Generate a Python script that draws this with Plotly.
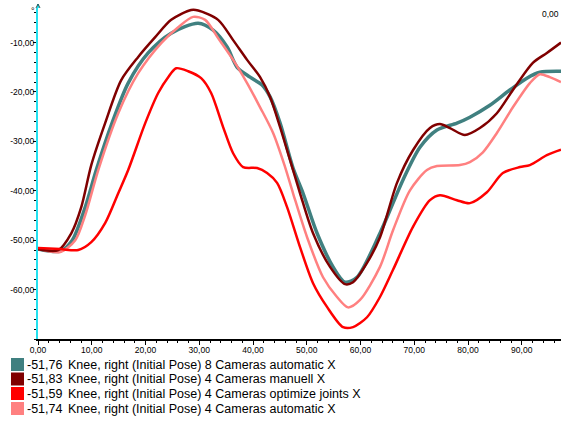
import plotly.graph_objects as go

# ---- data ----
names = [
    "Knee, right (Initial Pose) 8 Cameras automatic X",
    "Knee, right (Initial Pose) 4 Cameras manuell X",
    "Knee, right (Initial Pose) 4 Cameras optimize joints X",
    "Knee, right (Initial Pose) 4 Cameras automatic X",
]
first_values = ["-51,76", "-51,83", "-51,59", "-51,74"]
colors = ["#408080", "#800000", "#ff0000", "#ff8080"]

teal_t = [0, 4.14, 6.38, 8.79, 10.84, 13.77, 16.78, 20.50, 24.78, 29.80, 32.58, 35.19, 37.05,
          39.46, 41.69, 43.18, 45.04, 47.45, 49.31, 51.92, 54.89, 57.12, 59.35, 63.62, 67.90,
          71.06, 74.22, 77.94, 80.35, 84.07, 87.79, 90.95, 93.36, 97.3]
teal_v = [-51.76, -52.2, -50.0, -43.3, -35.8, -26.3, -18.2, -12.1, -8.1, -6.1, -7.5, -10.9, -15.0,
          -17.0, -18.6, -21.0, -26.3, -35.4, -40.5, -48.6, -55.4, -58.5, -57.5, -48.6, -37.8,
          -31.2, -27.7, -26.3, -25.1, -22.7, -19.6, -17.2, -16.0, -15.8]

dred_t = [0, 3.77, 6.19, 8.05, 9.91, 12.49, 15.48, 18.64, 21.80, 24.78, 28.49, 29.80, 33.51,
          36.30, 38.90, 41.32, 43.18, 45.04, 46.90, 48.75, 51.17, 54.33, 57.12, 58.61, 61.21,
          63.63, 66.79, 69.76, 72.92, 74.78, 76.64, 79.42, 82.21, 85.37, 88.35, 92.06, 94.67, 97.3]
dred_v = [-51.83, -52.0, -48.6, -43.3, -34.8, -26.3, -17.6, -12.9, -8.9, -5.4, -3.4, -3.5, -5.4,
          -9.5, -13.5, -17.0, -21.0, -27.1, -33.8, -40.5, -48.6, -55.4, -58.9, -58.5, -54.6,
          -49.4, -38.4, -31.8, -27.3, -26.5, -27.3, -28.7, -27.3, -24.3, -19.6, -14.1, -12.1, -10.0]

red_t = [0, 4.14, 7.49, 9.91, 12.51, 14.93, 16.78, 19.95, 22.36, 24.22, 25.71, 27.94, 30.35,
         32.21, 34.44, 36.30, 38.16, 40.76, 42.62, 44.48, 46.34, 48.75, 51.17, 53.77, 56.75,
         58.61, 61.21, 63.62, 66.05, 69.76, 72.92, 74.78, 77.94, 80.35, 83.51, 86.48, 89.64,
         91.51, 94.67, 97.3]
red_v = [-51.59, -51.8, -52.0, -50.4, -46.5, -40.5, -35.8, -26.3, -20.2, -17.0, -15.2, -15.8, -17.2,
         -20.2, -27.1, -32.4, -35.2, -35.4, -36.4, -38.4, -43.3, -51.4, -58.7, -63.5, -67.6,
         -67.6, -65.6, -61.5, -56.0, -47.3, -41.9, -40.9, -41.9, -42.5, -40.3, -36.4, -35.2,
         -34.8, -32.8, -31.7]

pink_t = [0, 4.14, 6.93, 8.79, 11.21, 14.93, 18.64, 22.92, 26.08, 28.86, 31.10, 33.51, 36.30,
          38.90, 41.32, 43.74, 45.97, 47.45, 50.06, 53.03, 55.63, 57.68, 59.91, 63.62, 66.05,
          69.20, 72.36, 74.22, 78.49, 80.35, 82.77, 85.37, 88.35, 91.51, 93.36, 95.22, 97.3]
pink_v = [-51.74, -52.4, -50.0, -44.9, -35.8, -24.3, -16.2, -10.1, -6.9, -4.8, -5.4, -9.1, -13.5,
          -18.2, -23.1, -28.3, -35.2, -40.5, -49.4, -57.5, -61.5, -63.6, -62.1, -55.4, -48.0,
          -39.9, -35.8, -35.0, -34.8, -34.2, -32.2, -28.3, -23.1, -18.2, -16.4, -17.0, -18.0]

x_tickvals = [0, 10, 20, 30, 40, 50, 60, 70, 80, 90]
x_ticktext = ["0,00", "10,00", "20,00", "30,00", "40,00", "50,00", "60,00", "70,00", "80,00", "90,00"]
y_tickvals = [-60, -50, -40, -30, -20, -10]
y_ticktext = ["-60,00", "-50,00", "-40,00", "-30,00", "-20,00", "-10,00"]

series = [
    (teal_t, teal_v, 0, 3.5),
    (pink_t, pink_v, 3, 2.5),
    (dred_t, dred_v, 1, 2.5),
    (red_t, red_v, 2, 2.5),
]

# ---- figure ----
W, H = 561, 421
ML, MR, MT, MB = 38, 0, 8, 82
PW, PH = W - ML - MR, H - MT - MB

def px2paper_x(px):
    return (px - ML) / PW

def py2paper_y(py):
    return (H - MB - py) / PH

fig = go.Figure()
for t, v, ci, lw in series:
    fig.add_trace(go.Scatter(
        x=t, y=v, mode="lines", name=names[ci],
        line=dict(color=colors[ci], width=lw, shape="spline", smoothing=0.8),
        showlegend=False, hoverinfo="skip",
    ))

font_family = "Liberation Sans, Arial, sans-serif"

fig.update_layout(
    width=W, height=H,
    margin=dict(l=ML, r=MR, t=MT, b=MB, pad=0),
    paper_bgcolor="white", plot_bgcolor="white",
    font=dict(family=font_family, color="black"),
    showlegend=False,
    xaxis=dict(
        range=[0, 97.3], showgrid=False, zeroline=False,
        showline=True, linecolor="black", linewidth=1.5,
        ticks="outside", ticklen=4, tickwidth=1, tickcolor="black",
        tickvals=x_tickvals, ticktext=x_ticktext,
        tickfont=dict(size=8.5, family=font_family),
        ticklabelstandoff=-2,
        minor=dict(ticks="outside", ticklen=2, tickcolor="black", tickwidth=1, dtick=2, tick0=0),
    ),
    yaxis=dict(
        range=[-70, -3], showgrid=False, zeroline=False,
        showline=True, linecolor="#22e0ee", linewidth=2,
        ticks="outside", ticklen=3, tickwidth=1, tickcolor="black",
        tickvals=y_tickvals, ticktext=y_ticktext,
        tickfont=dict(size=8.5, family=font_family),
        ticklabelstandoff=-3,
        minor=dict(ticks="outside", ticklen=2, tickcolor="black", tickwidth=1, dtick=2, tick0=0),
    ),
)

# y-axis extension with small arrow head at top
fig.add_shape(type="line", xref="paper", yref="paper",
              x0=0, x1=0, y0=1.0, y1=py2paper_y(4), line=dict(color="#22e0ee", width=2))
fig.add_shape(type="line", xref="paper", yref="paper",
              x0=px2paper_x(36), x1=px2paper_x(38), y0=py2paper_y(8), y1=py2paper_y(4),
              line=dict(color="#335555", width=1))
fig.add_shape(type="line", xref="paper", yref="paper",
              x0=px2paper_x(40), x1=px2paper_x(38), y0=py2paper_y(8), y1=py2paper_y(4),
              line=dict(color="#335555", width=1))

# unit label and top-right value
fig.add_annotation(x=px2paper_x(33), y=py2paper_y(11), xref="paper", yref="paper",
                   text="°", showarrow=False, font=dict(size=9), xanchor="center", yanchor="middle")
fig.add_annotation(x=1.0, y=py2paper_y(14), xref="paper", yref="paper",
                   text="0,00", showarrow=False, font=dict(size=8.5), xanchor="right", yanchor="middle")

# legend (boxes + text)
row_centers = [364.5, 379, 393.5, 408.5]
for i, cy in enumerate(row_centers):
    fig.add_shape(type="rect", xref="paper", yref="paper",
                  x0=px2paper_x(11), x1=px2paper_x(24),
                  y0=py2paper_y(cy + 6.5), y1=py2paper_y(cy - 6.5),
                  fillcolor=colors[i], line=dict(width=0))
    fig.add_annotation(x=px2paper_x(25), y=py2paper_y(cy), xref="paper", yref="paper",
                       text=first_values[i], showarrow=False, xanchor="left", yanchor="middle",
                       font=dict(size=12.5))
    fig.add_annotation(x=px2paper_x(66), y=py2paper_y(cy), xref="paper", yref="paper",
                       text=names[i], showarrow=False, xanchor="left", yanchor="middle",
                       font=dict(size=12.5))

fig.write_html("out.html")
